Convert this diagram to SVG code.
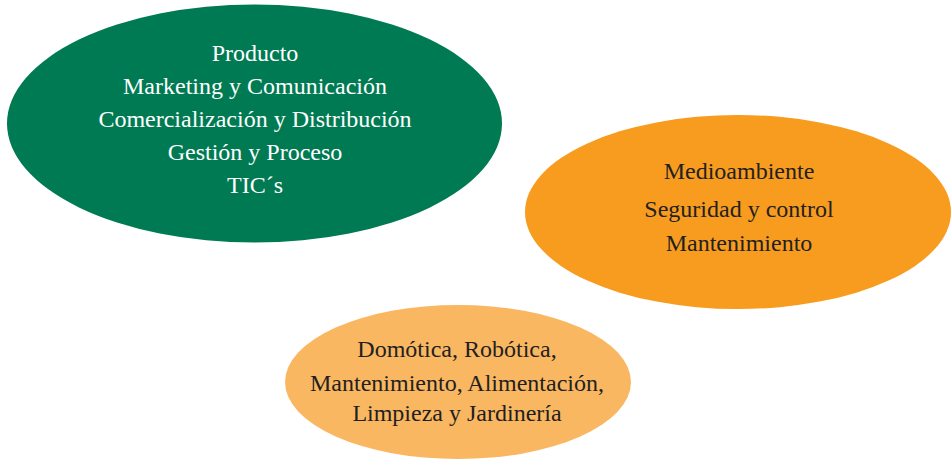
<svg xmlns="http://www.w3.org/2000/svg" width="951" height="460" viewBox="0 0 951 460">
<style>
text{font-family:"Liberation Serif","Times New Roman",serif;font-size:24px;text-anchor:middle}
.w{fill:#ffffff}
.d{fill:#231f20}
</style>
<rect width="951" height="460" fill="#ffffff"/>
<g id="connectors"></g>
<g id="node-green">
<ellipse cx="254.5" cy="123.5" rx="247.5" ry="119" fill="#007a52"/>
<text class="w" x="255" y="61">Producto</text>
<text class="w" x="255" y="94">Marketing y Comunicación</text>
<text class="w" x="255" y="127">Comercialización y Distribución</text>
<text class="w" x="255" y="160">Gestión y Proceso</text>
<text class="w" x="255" y="193">TIC´s</text>
</g>
<g id="node-orange">
<ellipse cx="738" cy="212" rx="213" ry="97" fill="#f79c1f"/>
<text class="d" x="739" y="179">Medioambiente</text>
<text class="d" x="739" y="217">Seguridad y control</text>
<text class="d" x="739" y="251">Mantenimiento</text>
</g>
<g id="node-light">
<ellipse cx="458" cy="382" rx="173" ry="77" fill="#fab762"/>
<text class="d" x="457" y="357">Domótica, Robótica,</text>
<text class="d" x="457" y="391">Mantenimiento, Alimentación,</text>
<text class="d" x="457" y="421">Limpieza y Jardinería</text>
</g>
</svg>
